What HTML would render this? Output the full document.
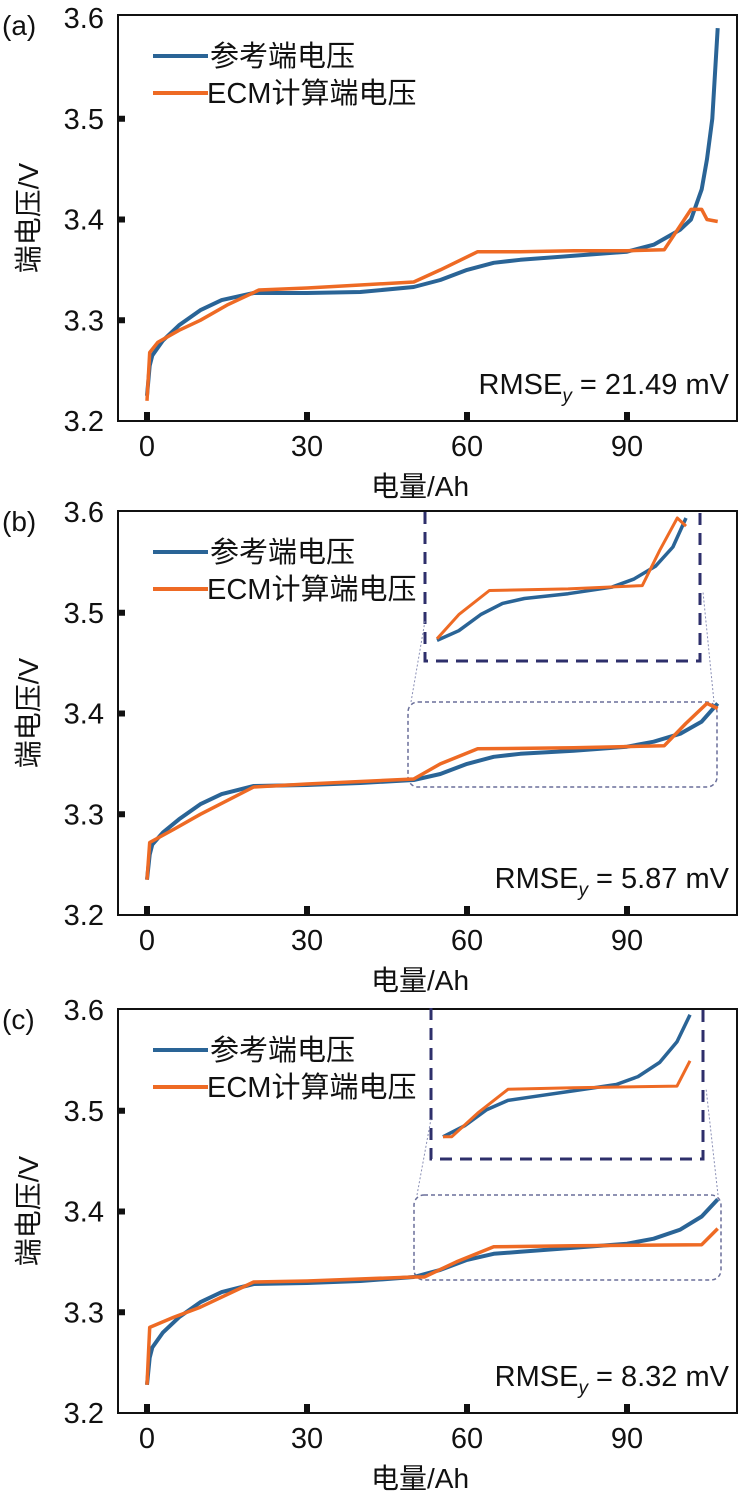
<!DOCTYPE html>
<html><head><meta charset="utf-8">
<style>
html,body{margin:0;padding:0;background:#fff;}
body{width:744px;height:1492px;overflow:hidden;font-family:"Liberation Sans","Noto Sans CJK SC",sans-serif;}
svg text{font-family:"Liberation Sans","Noto Sans CJK SC",sans-serif;fill:#111;}
</style></head>
<body>
<svg id="chart" width="744" height="1492" viewBox="0 0 744 1492" xmlns="http://www.w3.org/2000/svg"></svg>
<script>
const xTicks = [0, 30, 60, 90];
const yTicks = [3.2, 3.3, 3.4, 3.5, 3.6];
const yTickLabels = ["3.2", "3.3", "3.4", "3.5", "3.6"];
const panelLabels = ["(a)", "(b)", "(c)"];
const rmseValues = ["21.49", "5.87", "8.32"];

const refAhA = [0,0.5,1,3,6,10,14,20,30,40,50,55,60,65,70,80,90,95,100,102,104,105,106,107];
const refVA  = [3.225,3.255,3.265,3.28,3.295,3.31,3.32,3.327,3.327,3.328,3.333,3.34,3.35,3.357,3.36,3.364,3.368,3.375,3.39,3.40,3.43,3.46,3.50,3.59];
const ecmAhA = [0,0.5,2,6,10,15,21,30,40,50,55,62,70,80,90,97,102,104,105,107];
const ecmVA  = [3.22,3.268,3.278,3.29,3.30,3.315,3.33,3.332,3.335,3.338,3.35,3.368,3.368,3.369,3.369,3.37,3.41,3.41,3.40,3.398];

const refAhB = [0,0.5,1,3,6,10,14,20,30,40,50,55,60,65,70,80,90,95,100,104,107];
const refVB  = [3.235,3.26,3.27,3.282,3.295,3.31,3.32,3.328,3.329,3.331,3.334,3.34,3.35,3.357,3.36,3.363,3.367,3.372,3.38,3.392,3.41];
const ecmAhB = [0,0.5,5,10,20,30,50,55,62,80,97,101,105,107];
const ecmVB  = [3.235,3.272,3.285,3.30,3.327,3.33,3.335,3.35,3.365,3.366,3.368,3.39,3.41,3.405];

const refAhC = [0,0.5,1,3,6,10,14,20,30,40,50,55,60,65,70,80,90,95,100,104,107];
const refVC  = [3.228,3.255,3.265,3.28,3.295,3.31,3.32,3.328,3.329,3.331,3.335,3.342,3.352,3.358,3.36,3.364,3.368,3.373,3.382,3.395,3.412];
const ecmAhC = [0,0.5,5,10,20,30,50,52,58,65,80,104,107];
const ecmVC  = [3.228,3.285,3.295,3.305,3.33,3.331,3.335,3.335,3.35,3.365,3.366,3.367,3.383];

const panels = [
  {top:15, bottom:421, ref:[refAhA,refVA], ecm:[ecmAhA,ecmVA], inset:null},
  {top:511, bottom:915, ref:[refAhB,refVB], ecm:[ecmAhB,ecmVB],
   inset:{box:[425,512,700,661], rr:[408,702,717,787], px:[437,686], py:[642,518]}},
  {top:1009, bottom:1413, ref:[refAhC,refVC], ecm:[ecmAhC,ecmVC],
   inset:{box:[431,1008,703,1159], rr:[414,1195,721,1280], px:[443,690], py:[1140,1018]}}
];

const NS = "http://www.w3.org/2000/svg";
const svg = document.getElementById('chart');
function mk(tag, attrs, parent){
  const e = document.createElementNS(NS, tag);
  for (const k in attrs) e.setAttribute(k, attrs[k]);
  (parent||svg).appendChild(e);
  return e;
}
const L = 118, R = 737;
function xS(a){ return 147 + a*(160/30); }

panels.forEach((p, i) => {
  const g = mk('g', {});
  
  
  const yS = v => p.bottom - (v - 3.2) * (403/0.4);

  const frame = mk('rect', {x:L, y:p.top, width:R-L, height:p.bottom-p.top, fill:'none', stroke:'#111', 'stroke-width':2}, g);
  
  

  yTicks.forEach((t, k) => {
    const y = yS(t);
    if (k > 0 && k < yTicks.length - 1) {
      const tk = mk('rect', {x:L, y:y-3, width:7, height:6, fill:'#111'}, g);
      
      
    }
    const tl = mk('text', {x:104, y:y+10, 'font-size':29, 'text-anchor':'end'}, g);
    tl.textContent = yTickLabels[k];
    
    
  });
  xTicks.forEach(t => {
    const x = xS(t);
    const tk = mk('rect', {x:x-3, y:p.bottom-9, width:6, height:9, fill:'#111'}, g);
    
    
    const tl = mk('text', {x:x, y:p.bottom+35, 'font-size':29, 'text-anchor':'middle'}, g);
    tl.textContent = String(t);
    
    
  });

  const pl = mk('text', {x:2, y:p.top+20, 'font-size':28}, g);
  pl.textContent = panelLabels[i];
  
  

  const cy = (p.top + p.bottom) / 2;
  const yt = mk('text', {x:38, y:cy, 'font-size':28, 'text-anchor':'middle', transform:'rotate(-90 38 '+cy+')'}, g);
  yt.textContent = '端电压/V';
  
  
  const xt = mk('text', {x:420, y:p.bottom+75, 'font-size':28, 'text-anchor':'middle'}, g);
  xt.textContent = '电量/Ah';
  
  

  if (p.inset) {
    const b = p.inset.box, r = p.inset.rr;
    const ib = mk('path', {d:`M${b[0]} ${b[1]} V${b[3]} H${b[2]} V${b[1]}`, fill:'none', stroke:'#2e2f6b', 'stroke-width':3, 'stroke-dasharray':'12 8'}, g);
    
    
    const rr = mk('rect', {x:r[0], y:r[1], width:r[2]-r[0], height:r[3]-r[1], rx:10, fill:'none', stroke:'#6a6f9a', 'stroke-width':1.5, 'stroke-dasharray':'4 3'}, g);
    
    
    const c1 = mk('line', {x1:r[0]+3, y1:r[1], x2:b[0], y2:b[3]-40, stroke:'#8a8fb5', 'stroke-width':1, 'stroke-dasharray':'2 2'}, g);
    
    
    const c2 = mk('line', {x1:r[2]-3, y1:r[1], x2:b[2]+3, y2:b[1]+80, stroke:'#8a8fb5', 'stroke-width':1, 'stroke-dasharray':'2 2'}, g);
    
    
  }

  function series(arr, color, name, xf, yf, w){
    const d = arr[0].map((a, k) => (k ? 'L' : 'M') + xf(a).toFixed(1) + ' ' + yf(arr[1][k]).toFixed(1)).join(' ');
    const path = mk('path', {d:d, fill:'none', stroke:color, 'stroke-width':w, 'stroke-linejoin':'round'}, g);
    
    
  }
  series(p.ref, '#2a6496', 'reference-voltage-line', xS, yS, 4);
  series(p.ecm, '#ee6a24', 'ecm-voltage-line', xS, yS, 3.5);

  if (p.inset) {
    const q = p.inset;
    const ixS = a => q.px[0] + (a - 50) * (q.px[1] - q.px[0]) / 57;
    const iyS = v => q.py[0] - (v - 3.333) * (q.py[0] - q.py[1]) / 0.077;
    const sub = (arr) => { const A=[],V=[]; arr[0].forEach((a,k)=>{ if(a>=50){A.push(a);V.push(arr[1][k]);} }); return [A,V]; };
    series(sub(p.ref), '#2a6496', 'inset-reference-line', ixS, iyS, 3.5);
    series(sub(p.ecm), '#ee6a24', 'inset-ecm-line', ixS, iyS, 3);
  }

  const ly = p.top + 41;
  const l1 = mk('line', {x1:153, y1:ly, x2:208, y2:ly, stroke:'#2a6496', 'stroke-width':4}, g);
  
  
  const t1 = mk('text', {x:210, y:ly+10, 'font-size':29}, g);
  t1.textContent = '参考端电压';
  
  
  const l2 = mk('line', {x1:153, y1:ly+37, x2:208, y2:ly+37, stroke:'#ee6a24', 'stroke-width':4}, g);
  
  
  const t2 = mk('text', {x:207, y:ly+47, 'font-size':29}, g);
  t2.textContent = 'ECM计算端电压';
  
  

  const rm = mk('text', {x:729, y:p.bottom-27, 'font-size':29, 'text-anchor':'end'}, g);
  rm.innerHTML = 'RMSE<tspan font-size="19" font-style="italic" dy="8">y</tspan><tspan dy="-8"> = ' + rmseValues[i] + ' mV</tspan>';
  
  
});
</script>
</body></html>
